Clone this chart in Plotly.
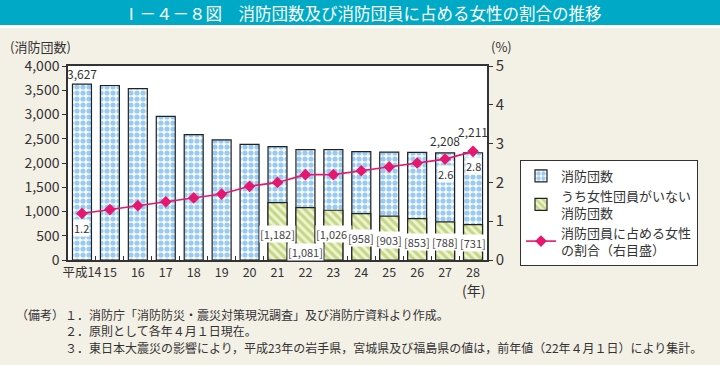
import plotly.graph_objects as go

years = ["平成14", "15", "16", "17", "18", "19", "20", "21", "22", "23", "24", "25", "26", "27", "28"]
corps_total = [3627, 3598, 3535, 2963, 2584, 2475, 2382, 2337, 2275, 2276, 2234, 2224, 2221, 2208, 2211]
corps_no_women = [None, None, None, None, None, None, None, 1182, 1081, 1026, 958, 903, 853, 788, 731]
women_ratio = [1.2, 1.3, 1.4, 1.5, 1.6, 1.7, 1.9, 2.0, 2.2, 2.2, 2.3, 2.4, 2.5, 2.6, 2.8]

FONT = "Noto Sans CJK JP"
TXT = "#333333"
BG = "#F3F0E6"
TEAL = "#00AAC7"
PINK = "#E5176F"

W, H = 720, 365
L, R, T, B = 68, 233, 66, 105
pw, ph = W - L - R, H - T - B


def px_x(x):
    return (x - L) / pw


def px_y(y):
    return (H - B - y) / ph


fig = go.Figure()
fig.add_trace(go.Bar(
    x=years, y=corps_total, name="消防団数", width=0.68,
    marker=dict(color="#FFFFFF", line=dict(color="#222222", width=1.2),
                pattern=dict(shape=".", fgcolor="#98CAF2", bgcolor="#FFFFFF", size=6, solidity=0.6,
                             fillmode="replace")),
    yaxis="y",
))
fig.add_trace(go.Bar(
    x=years, y=corps_no_women, name="うち女性団員がいない<br>消防団数", width=0.68,
    marker=dict(color="#EEF3D2", line=dict(color="#222222", width=1.2),
                pattern=dict(shape="\\", fgcolor="#C3D784", bgcolor="#EEF3D2", size=6, solidity=0.5,
                             fillmode="replace")),
    yaxis="y",
))
fig.add_trace(go.Scatter(
    x=years, y=women_ratio, name="消防団員に占める女性<br>の割合（右目盛）",
    mode="lines+markers", line=dict(color=PINK, width=1.6),
    marker=dict(symbol="diamond", size=9, color=PINK),
    yaxis="y2",
))

# total labels (first and last two)
for i, dy in [(0, 11), (13, 12), (14, 21)]:
    fig.add_annotation(x=i, y=corps_total[i], xref="x", yref="y", text=f"{corps_total[i]:,}",
                       showarrow=False, yshift=dy, font=dict(size=12, color=TXT, family=FONT))
# no-women labels
label_y = {7: 536, 8: 165, 9: 536, 10: 454, 11: 412, 12: 371, 13: 371, 14: 350}
for i, v in enumerate(corps_no_women):
    if v is None:
        continue
    fig.add_annotation(x=i, y=label_y[i], xref="x", yref="y", text=f"[{v:,}]", showarrow=False,
                       bgcolor="#FFFFFF", borderpad=0,
                       font=dict(size=11, color="#444444", family=FONT))
# ratio labels
for i in [0, 13, 14]:
    fig.add_annotation(x=i, y=women_ratio[i] - 0.38, xref="x", yref="y2", text=f"{women_ratio[i]}",
                       showarrow=False, bgcolor="#FFFFFF", borderpad=0,
                       font=dict(size=11, color=TXT, family=FONT))
# axis titles
fig.add_annotation(x=px_x(8), y=px_y(47), xref="paper", yref="paper", text="(消防団数)", showarrow=False,
                   xanchor="left", yanchor="middle", font=dict(size=13, color=TXT, family=FONT))
fig.add_annotation(x=px_x(501), y=px_y(47), xref="paper", yref="paper", text="(%)", showarrow=False,
                   xanchor="center", yanchor="middle", font=dict(size=13, color=TXT, family=FONT))
fig.add_annotation(x=len(years) - 1, y=px_y(290), xref="x", yref="paper", text="(年)", showarrow=False,
                   yanchor="middle", font=dict(size=14, color=TXT, family=FONT))

fig.add_annotation(x=px_x(362), y=px_y(13), xref="paper", yref="paper",
                   text="Ⅰ－４－８図　消防団数及び消防団員に占める女性の割合の推移",
                   showarrow=False, xanchor="center", yanchor="middle",
                   font=dict(size=16.5, color="#FFFFFF", family=FONT))

notes = [
    ("（備考）", "１．消防庁「消防防災・震災対策現況調査」及び消防庁資料より作成。"),
    ("", "２．原則として各年４月１日現在。"),
    ("", "３．東日本大震災の影響により，平成23年の岩手県，宮城県及び福島県の値は，前年値（22年４月１日）により集計。"),
]
note_y = [314, 330, 347]
for (head, body), yy in zip(notes, note_y):
    if head:
        fig.add_annotation(x=px_x(14), y=px_y(yy), xref="paper", yref="paper", text=head,
                           showarrow=False, xanchor="left", yanchor="middle",
                           font=dict(size=12, color=TXT, family=FONT))
    fig.add_annotation(x=px_x(63), y=px_y(yy), xref="paper", yref="paper", text=body,
                       showarrow=False, xanchor="left", yanchor="middle",
                       font=dict(size=12, color=TXT, family=FONT))

fig.add_shape(type="rect", xref="paper", yref="paper", x0=px_x(0), x1=px_x(W), y0=px_y(0), y1=px_y(25),
              fillcolor=TEAL, line=dict(width=0), layer="below")
fig.add_shape(type="rect", xref="paper", yref="paper", x0=px_x(0), x1=px_x(W), y0=px_y(25), y1=px_y(28),
              fillcolor="#FFFFFF", line=dict(width=0), layer="below")

fig.update_layout(
    width=W, height=H,
    margin=dict(l=L, r=R, t=T, b=B),
    paper_bgcolor=BG, plot_bgcolor="#FFFFFF",
    font=dict(family=FONT, color=TXT, size=13),
    barmode="overlay",
    showlegend=True,
    legend=dict(x=px_x(520), y=px_y(160), xanchor="left", yanchor="top",
                bgcolor="#FFFFFF", bordercolor="#333333", borderwidth=1,
                font=dict(size=13, color=TXT, family=FONT), tracegroupgap=2,
                itemwidth=30),
    xaxis=dict(type="category", range=[-0.5, len(years) - 0.5], showline=True, linecolor="#333333",
               linewidth=1.5, mirror=True,
               ticks="inside", tickson="boundaries", ticklen=4, tickcolor="#333333",
               tickfont=dict(size=12.5, color=TXT), showgrid=False, tickangle=0),
    yaxis=dict(range=[0, 4000], dtick=500, tickformat=",", showgrid=False,
               showline=True, linecolor="#333333", linewidth=1.5,
               ticks="outside", ticklen=4, tickcolor="#333333",
               tickfont=dict(size=14, color=TXT), zeroline=False),
    yaxis2=dict(range=[0, 5], dtick=1, overlaying="y", side="right", showgrid=False,
                showline=True, linecolor="#333333", linewidth=1.5,
                ticks="outside", ticklen=4, tickcolor="#333333",
                tickfont=dict(size=15, color=TXT), zeroline=False),
)

fig.write_html("out.html", config={"displayModeBar": False},
               post_script="document.body.style.margin='0';document.body.style.background='#F3F0E6';")
